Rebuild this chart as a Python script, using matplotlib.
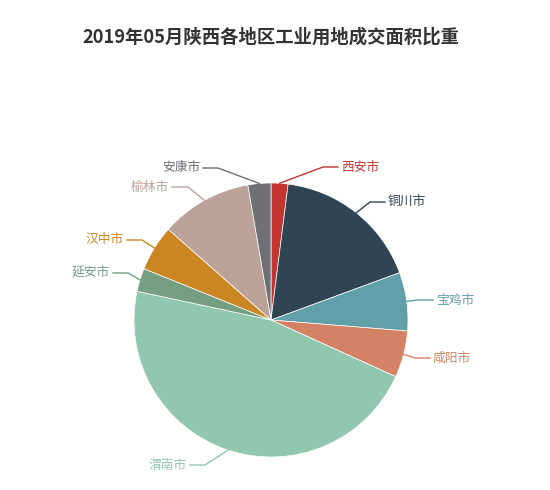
import numpy as np
import matplotlib
matplotlib.use("Agg")
import matplotlib.pyplot as plt

plt.rcParams['font.family'] = ['Noto Sans CJK SC', 'DejaVu Sans']

# 数据
cities = ["西安市", "铜川市", "宝鸡市", "咸阳市", "渭南市", "延安市", "汉中市", "榆林市", "安康市"]
shares = [2.0, 17.4, 6.9, 5.5, 46.6, 2.75, 5.4, 10.8, 2.7]
colors = ['#c23531', '#2f4554', '#61a0a8', '#d48265', '#91c7ae',
          '#749f83', '#ca8622', '#bda29a', '#6e7074']
title = "2019年05月陕西各地区工业用地成交面积比重"

# 版式 (像素, 从左上角算)
W, H = 550, 490
cx, cy, R = 271, 320, 137
# 引导线拐点和水平线终点
elbow = [(323, 167), (370, 202), (418, 300), (415, 358), (205, 465),
         (128, 273), (142, 240), (188, 187), (218, 168)]
line_end = [(338, 167), (385, 202), (433, 300), (430, 358), (190, 465),
            (113, 273), (127, 240), (172, 187), (203, 168)]

fig = plt.figure(figsize=(W / 100, H / 100), dpi=100)
ax = fig.add_axes([0, 0, 1, 1])

ax.pie(shares, colors=colors, startangle=90, counterclock=False,
       center=(cx, H - cy), radius=R,
       wedgeprops=dict(edgecolor='white', linewidth=0.5))

# 标签和引导线
total = sum(shares)
acc = 0
for i, name in enumerate(cities):
    mid = (acc + shares[i] / 2) / total * 2 * np.pi
    acc += shares[i]
    x1 = cx + R * np.sin(mid)
    y1 = cy - R * np.cos(mid)
    xs = [x1, elbow[i][0], line_end[i][0]]
    ys = [H - y1, H - elbow[i][1], H - line_end[i][1]]
    ax.plot(xs, ys, color=colors[i], lw=1)
    right = line_end[i][0] > elbow[i][0]
    tx = line_end[i][0] + (3 if right else -3)
    ax.text(tx, H - line_end[i][1], name, color=colors[i], fontsize=9.2,
            ha='left' if right else 'right', va='center')

ax.text(W / 2 - 4, H - 37, title, ha='center', va='center', fontsize=13.2,
        fontweight='bold', color='#333333')

ax.set_xlim(0, W)
ax.set_ylim(0, H)
ax.set_aspect('equal')
ax.axis('off')

fig.savefig("out.png", dpi=100, facecolor='white')
